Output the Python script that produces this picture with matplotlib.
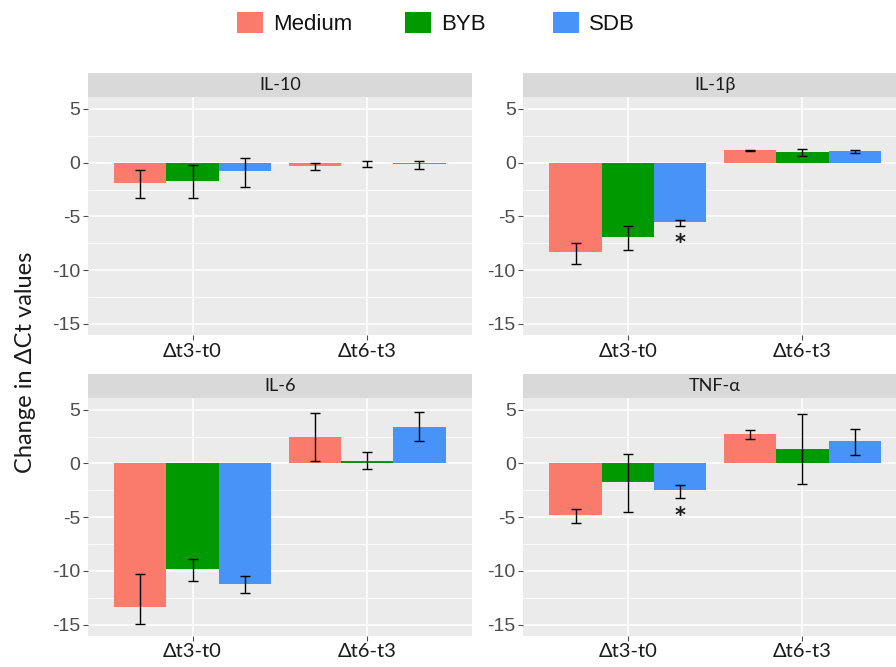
import matplotlib
matplotlib.use("Agg")
import matplotlib.pyplot as plt
import numpy as np
from matplotlib.patches import Rectangle

# ---- data -------------------------------------------------------------
timepoints = ["\u0394t3-t0", "\u0394t6-t3"]
groups = ["Medium", "BYB", "SDB"]
colors = ["#FA7A6C", "#009900", "#4893F7"]
cytokines = ["IL-10", "IL-1\u03b2", "IL-6", "TNF-\u03b1"]

# mean change per cytokine: rows = groups, cols = timepoints
means = {
    "IL-10":  [[-1.93, -0.28], [-1.72, -0.05], [-0.80, -0.15]],
    "IL-1\u03b2": [[-8.35, 1.16], [-6.90, 0.96], [-5.56, 1.09]],
    "IL-6":   [[-13.33, 2.45], [-9.85, 0.22], [-11.19, 3.38]],
    "TNF-\u03b1": [[-4.83, 2.72], [-1.73, 1.36], [-2.51, 2.04]],
}
# error bar lower / upper ends
err_lo = {
    "IL-10":  [[-3.29, -0.68], [-3.29, -0.40], [-2.23, -0.59]],
    "IL-1\u03b2": [[-9.38, 1.12], [-8.14, 0.62], [-5.90, 0.93]],
    "IL-6":   [[-14.94, 0.19], [-10.97, -0.56], [-12.02, 2.11]],
    "TNF-\u03b1": [[-5.57, 2.23], [-4.52, -1.89], [-3.25, 0.77]],
}
err_hi = {
    "IL-10":  [[-0.65, -0.03], [-0.22, 0.19], [0.47, 0.19]],
    "IL-1\u03b2": [[-7.45, 1.20], [-5.90, 1.24], [-5.31, 1.18]],
    "IL-6":   [[-10.29, 4.71], [-8.86, 1.08], [-10.50, 4.80]],
    "TNF-\u03b1": [[-4.21, 3.06], [0.87, 4.55], [-2.01, 3.19]],
}
# significance marks: (cytokine, group index, timepoint index)
signif = [("IL-1\u03b2", 2, 0), ("TNF-\u03b1", 2, 0)]

yticks = [5, 0, -5, -10, -15]
ylim = (-16.03, 6.11)

# ---- figure -----------------------------------------------------------
W, H = 896, 667
fig = plt.figure(figsize=(W / 100, H / 100), dpi=100)
fig.patch.set_facecolor("white")

panel_w = 383.7
panel_h = 238.0
strip_h = 24.0
lefts = [88.0, 523.3]
tops = [97.0, 397.7]

def px_axes(x0, y0, w, h):
    return fig.add_axes([x0 / W, 1 - (y0 + h) / H, w / W, h / H])

x = np.arange(1, len(timepoints) + 1)
bw = 0.3
offsets = np.array([-bw, 0.0, bw])

for i, cyt in enumerate(cytokines):
    r, c = divmod(i, 2)
    x0, y0 = lefts[c], tops[r]
    ax = px_axes(x0, y0, panel_w, panel_h)
    ax.set_facecolor("#EBEBEB")
    ax.set_xlim(0.4, 2.6)
    ax.set_ylim(*ylim)
    ax.set_yticks(yticks)
    ax.set_yticks([2.5, -2.5, -7.5, -12.5], minor=True)
    ax.set_xticks(x)
    ax.set_xticklabels(timepoints, fontfamily="Lato", fontsize=14.5, color="#1A1A1A")
    ax.set_yticklabels([str(v) for v in yticks], fontfamily="Liberation Sans",
                       fontsize=14, color="#4D4D4D")
    ax.grid(True, which="major", color="white", linewidth=1.1)
    ax.grid(True, which="minor", axis="y", color="white", linewidth=0.55)
    ax.set_axisbelow(True)
    for s in ax.spines.values():
        s.set_visible(False)
    ax.tick_params(axis="both", which="major", length=3.5, width=0.8, color="#4D4D4D", pad=2)
    ax.tick_params(axis="y", which="minor", length=0)

    m = np.array(means[cyt])
    lo = np.array(err_lo[cyt])
    hi = np.array(err_hi[cyt])
    for g in range(len(groups)):
        xs = x + offsets[g]
        ax.bar(xs, m[g], width=bw, color=colors[g], linewidth=0, zorder=2)
        ax.errorbar(xs, m[g], yerr=[m[g] - lo[g], hi[g] - m[g]], fmt="none",
                    ecolor="black", elinewidth=1.0, capsize=3.8, capthick=1.0, zorder=3)

    for (sc, g, t) in signif:
        if sc == cyt:
            ax.text(x[t] + offsets[g], lo[g][t] - 1.6, "*", ha="center", va="center",
                    fontsize=15, fontweight="bold", color="#1A1A1A",
                    fontfamily="DejaVu Sans", zorder=4)

    # facet strip
    sax = px_axes(x0, y0 - strip_h, panel_w, strip_h)
    sax.set_facecolor("#D9D9D9")
    sax.set_xticks([])
    sax.set_yticks([])
    for s in sax.spines.values():
        s.set_visible(False)
    sax.text(0.5, 0.5, cyt, ha="center", va="center", transform=sax.transAxes,
             fontfamily=["Lato", "DejaVu Sans"], fontsize=13, color="#1A1A1A")

# y axis title
fig.text(25 / W, 1 - 362 / H, "Change in \u0394Ct values", rotation=90,
         ha="center", va="center", fontfamily=["Lato", "DejaVu Sans"],
         fontsize=17, color="#1A1A1A")

# legend row across the top
key_x = [237, 405, 553]
key_w, key_h, key_top = 26, 21, 12
for kx, name, col in zip(key_x, groups, colors):
    fig.patches.append(Rectangle((kx / W, 1 - (key_top + key_h) / H), key_w / W, key_h / H,
                                 transform=fig.transFigure, facecolor=col,
                                 edgecolor="none"))
    fig.text((kx + key_w + 10) / W, 1 - (key_top + key_h / 2 + 1.5) / H, name,
             ha="left", va="center", fontfamily="Liberation Sans", fontsize=16,
             color="#111111")

fig.savefig("out.png", dpi=100, facecolor="white")
